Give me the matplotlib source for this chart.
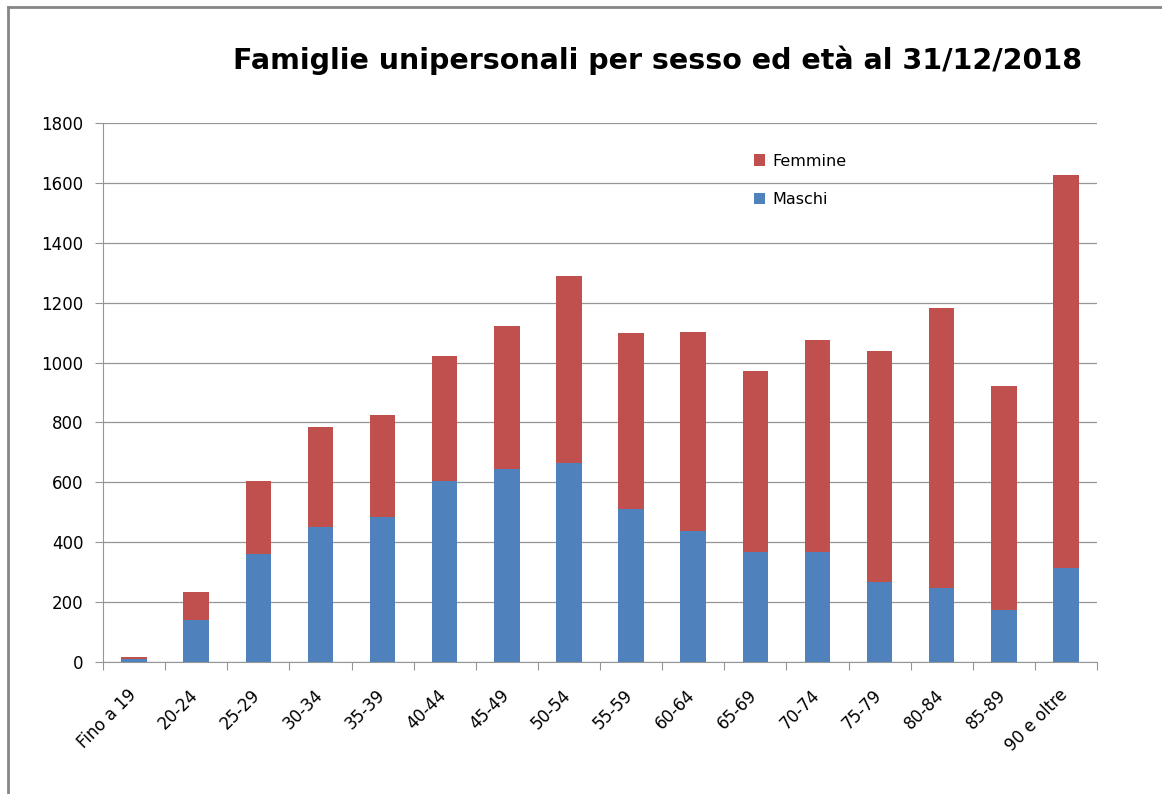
import numpy as np
import matplotlib.pyplot as plt
import matplotlib.transforms as mtransforms
from matplotlib.lines import Line2D
from matplotlib import font_manager

# Data
classi = ["Fino a 19", "20-24", "25-29", "30-34", "35-39", "40-44", "45-49", "50-54",
          "55-59", "60-64", "65-69", "70-74", "75-79", "80-84", "85-89", "90 e oltre"]
maschi = [10, 140, 361, 451, 484, 604, 644, 664, 511, 437, 367, 367, 268, 248, 175, 315]
totale = [17, 234, 604, 785, 825, 1022, 1122, 1289, 1099, 1102, 972, 1075, 1038, 1182, 922, 1626]
femmine = [t - m for t, m in zip(totale, maschi)]

blu = "#4F81BD"
rosso = "#C0504D"

fig = plt.figure(figsize=(11.62, 7.94), dpi=100)
W, H = 1162, 794
# chart frame: only left and top edges are visible in the reference
fig.lines.append(Line2D([8 / W, 8 / W], [0, 1 - 7 / H], transform=fig.transFigure,
                        color="#868686", linewidth=2))
fig.lines.append(Line2D([8 / W, 1], [1 - 7 / H, 1 - 7 / H], transform=fig.transFigure,
                        color="#868686", linewidth=2))

ax = fig.add_axes([103 / W, 1 - 662 / H, (1097 - 103) / W, (662 - 123) / H])
x = np.arange(len(classi))
ax.bar(x, maschi, width=0.41, color=blu, label="Maschi", zorder=3)
ax.bar(x, femmine, width=0.41, bottom=maschi, color=rosso, label="Femmine", zorder=3)

ax.set_xlim(-0.5, len(classi) - 0.5)
ax.set_ylim(0, 1800)
ax.set_yticks(np.arange(0, 1801, 200))
ax.yaxis.grid(True, color="#959595", linewidth=0.9)
ax.set_axisbelow(True)
for s in ["top", "right"]:
    ax.spines[s].set_visible(False)
ax.spines["left"].set_color("#959595")
ax.spines["bottom"].set_color("#959595")

ax.set_xticks(np.arange(-0.5, len(classi), 1))
ax.set_xticklabels([])
ax.set_xticks(x, minor=True)
ax.set_xticklabels(classi, minor=True, rotation=45, ha="right", rotation_mode="anchor",
                   fontsize=12)
ax.tick_params(axis="x", which="minor", length=0, pad=13)
ax.tick_params(axis="x", which="major", length=6, color="#959595")
ax.tick_params(axis="y", length=6, color="#959595", labelsize=12, pad=8)
# nudge category labels down-left like the reference
shift = mtransforms.ScaledTranslation(-7 / 100, -6 / 100, fig.dpi_scale_trans)
for lab in ax.get_xticklabels(minor=True):
    lab.set_transform(lab.get_transform() + shift)

h, l = ax.get_legend_handles_labels()
ax.legend(h[::-1], l[::-1], loc="upper left", bbox_to_anchor=(0.64, 0.97), frameon=False,
          fontsize=11.5, handlelength=0.7, handleheight=0.7, labelspacing=1.45, handletextpad=0.5)

# condensed bold title if a narrow face is installed
try:
    font_manager.findfont("Liberation Sans Narrow", fallback_to_default=False)
    tfam, tsize = "Liberation Sans Narrow", 26
except Exception:
    tfam, tsize = "DejaVu Sans", 20.5
fig.text(658 / W, 1 - 60 / H, "Famiglie unipersonali per sesso ed età al 31/12/2018",
         ha="center", va="center", fontsize=tsize, fontweight="bold", family=tfam)

fig.savefig("out.png", dpi=100)
